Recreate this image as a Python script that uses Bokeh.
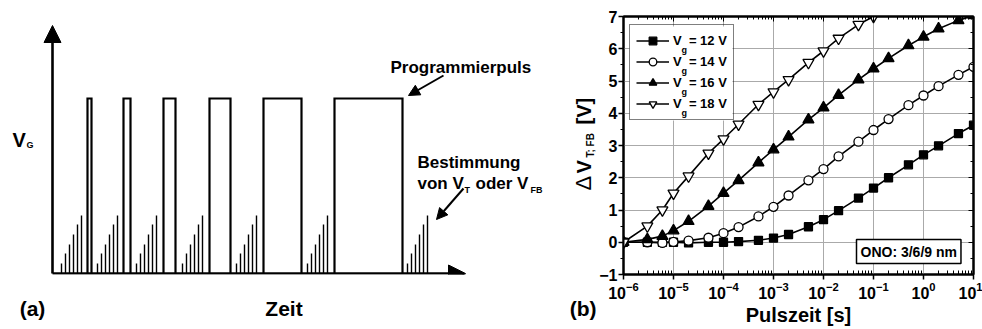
import math
from bokeh.plotting import figure
from bokeh.layouts import row
from bokeh.models import (Range1d, Label, Arrow, NormalHead, FixedTicker, LogAxis,
                          LinearAxis, Legend, LegendItem, CustomJSTickFormatter,
                          BoxAnnotation)
from bokeh.embed import file_html
from bokeh.resources import INLINE

# ---------------- panel (a): schematic pulse sequence (arbitrary units) -------------
pulse_start = [35, 71, 111, 157, 211, 282]
pulse_end = [39, 78, 123, 178, 249, 350]
pulse_level = 175
meas_start = [9, 45, 84, 130, 184, 255, 355]
meas_levels = [10, 20, 29, 39, 49, 58]
meas_step = 4
time_axis_end = 413
volt_axis_end = 248
panel_tags = ["(a)", "Zeit", "(b)"]

# ---------------- panel (b): threshold shift vs. pulse time ---------------------------
pulse_time = [1e-6, 3e-6, 6e-6, 1e-5, 2e-5, 5e-5, 1e-4, 2e-4, 5e-4, 1e-3, 2e-3, 5e-3,
              1e-2, 2e-2, 5e-2, 1e-1, 2e-1, 5e-1, 1, 2, 5, 10]
dv_12 = [0, 0, 0, 0, -0.02, 0, 0, 0.02, 0.06, 0.13, 0.24, 0.48, 0.70, 0.98, 1.37, 1.68,
         2.00, 2.40, 2.71, 2.99, 3.37, 3.63]
dv_14 = [0, 0, -0.02, 0.01, 0.05, 0.14, 0.28, 0.47, 0.80, 1.10, 1.45, 1.92, 2.27, 2.66,
         3.12, 3.48, 3.82, 4.25, 4.55, 4.84, 5.19, 5.44]
dv_16 = [0, 0.09, 0.19, 0.36, 0.65, 1.12, 1.52, 1.92, 2.47, 2.87, 3.27, 3.80, 4.17, 4.56,
         5.04, 5.38, 5.70, 6.10, 6.37, 6.62, 6.88, 7.03]
dv_18 = [0, 0.50, 1.00, 1.52, 2.05, 2.76, 3.20, 3.66, 4.27, 4.66, 5.04, 5.57, 5.93, 6.32,
         6.75, 7.00]
series_values = [dv_12, dv_14, dv_16, dv_18]
series_labels = ["V  = 12 V", "V  = 14 V", "V  = 16 V", "V  = 18 V"]
series_markers = ["square", "circle", "triangle", "inverted_triangle"]
series_fill = ["black", "white", "black", "white"]
series_size = [8, 9, 11, 11]
x_ticks = [1e-6, 1e-5, 1e-4, 1e-3, 1e-2, 1e-1, 1e0, 1e1]
y_ticks = [-1, 0, 1, 2, 3, 4, 5, 6, 7]

FONT = "Liberation Sans"
LEFT_W = 596

# =============================== panel (a) ===========================================
# frames of both panels are aligned by the row layout (top 16 px, bottom 55 px)
pa = figure(width=LEFT_W, height=329, x_range=Range1d(-52, LEFT_W - 52),
            y_range=Range1d(-1, 257), x_axis_location=None, y_axis_location=None,
            output_backend="svg", toolbar_location=None, min_border_left=0,
            min_border_right=0, min_border_top=16, min_border_bottom=55,
            outline_line_color=None)
pa.grid.visible = False

xs = [[s, s, e, e] for s, e in zip(pulse_start, pulse_end)]
ys = [[0, pulse_level, pulse_level, 0] for _ in pulse_start]
pa.multi_line(xs, ys, line_color="black", line_width=2.2, line_join="miter")

sx = [s + i * meas_step for s in meas_start for i in range(len(meas_levels))]
sy = [lv for s in meas_start for lv in meas_levels]
pa.segment(x0=sx, y0=[0] * len(sx), x1=sx, y1=sy, line_color="black", line_width=1.4)

pa.add_layout(Arrow(end=NormalHead(size=17, fill_color="black", line_color="black", line_width=1),
                    x_start=0, y_start=0, x_end=time_axis_end, y_end=0,
                    line_width=2.6, line_color="black"))
pa.add_layout(Arrow(end=NormalHead(size=17, fill_color="black", line_color="black", line_width=1),
                    x_start=0, y_start=0, x_end=0, y_end=volt_axis_end,
                    line_width=2.6, line_color="black"))
# annotation arrows
pa.add_layout(Arrow(end=NormalHead(size=11, fill_color="black", line_color="black", line_width=1),
                    x_start=391, y_start=198, x_end=356, y_end=178,
                    line_width=2, line_color="black"))
pa.add_layout(Arrow(end=NormalHead(size=11, fill_color="black", line_color="black", line_width=1),
                    x_start=411, y_start=85, x_end=384, y_end=54,
                    line_width=2, line_color="black"))


def lab(p, x, y, text, size, **kw):
    p.add_layout(Label(x=x, y=y, text=text, text_font=FONT,
                       text_font_style=kw.pop("style", "bold"),
                       text_font_size=f"{size}px", text_color="black",
                       text_baseline=kw.pop("baseline", "alphabetic"), **kw))


lab(pa, -40, 134, "V", 20)
lab(pa, -26, 129, "G", 9)
lab(pa, 338, 206, "Programmierpuls", 17)
lab(pa, 365, 111, "Bestimmung", 17)
lab(pa, 365, 90, "von V", 17)
lab(pa, 412, 84, "T", 9)
lab(pa, 423, 90, "oder V", 17)
lab(pa, 478, 84, "FB", 9)

# rotated y-axis title of panel (b), drawn in the gutter left of its axis
rot = math.pi / 2
lab(pa, 531, 83, "\u0394", 22, angle=rot, baseline="middle", style="normal")
lab(pa, 531, 100, "V", 20, angle=rot, baseline="middle")
lab(pa, 538, 116, "T; FB", 10, angle=rot, baseline="middle")
lab(pa, 531, 149, "[V]", 20, angle=rot, baseline="middle")

# panel tags and the time-axis caption as tick labels of a bare axis below panel (a)
tag_pos = [-20, 231.5, 531]
tag_axis = LinearAxis(ticker=FixedTicker(ticks=tag_pos, minor_ticks=[]),
                      major_label_overrides={p: t for p, t in zip(tag_pos, panel_tags)},
                      axis_line_color=None, major_tick_line_color=None,
                      minor_tick_line_color=None, major_tick_out=0, major_tick_in=0,
                      major_label_standoff=22, major_label_text_font=FONT,
                      major_label_text_font_style="bold", major_label_text_font_size="21px",
                      major_label_text_color="black")
pa.add_layout(tag_axis, "below")

# =============================== panel (b) ===========================================
pb = figure(width=982 - LEFT_W, height=329, x_axis_type="log", x_range=Range1d(1e-6, 1e1),
            y_range=Range1d(-1, 7), output_backend="svg", toolbar_location=None,
            min_border_left=623 - LEFT_W, min_border_right=9, min_border_top=16,
            min_border_bottom=55, outline_line_color="black", outline_line_width=2)

xt = FixedTicker(ticks=x_ticks,
                 minor_ticks=[k * d for d in x_ticks[:-1] for k in range(2, 10)])
yt = FixedTicker(ticks=y_ticks, minor_ticks=[v + 0.5 for v in y_ticks[:-1]])

xa = pb.xaxis[0]
xa.ticker = xt
xa.axis_label = "Pulszeit [s]"
ya = pb.yaxis[0]
ya.ticker = yt

for ax in (xa, ya):
    ax.axis_line_width = 2
    ax.major_tick_line_width = 1.5
    ax.minor_tick_line_width = 1
    ax.major_label_text_font = FONT
    ax.major_label_text_font_style = "bold"
    ax.major_label_text_font_size = "16px"
    ax.major_label_text_color = "black"
    ax.major_label_standoff = 2
    ax.major_tick_out = 5
    ax.major_tick_in = 0
ya.major_label_standoff = 1
xa.minor_tick_in = 4
xa.minor_tick_out = 0
ya.minor_tick_in = 0
ya.minor_tick_out = 3
xa.axis_label_text_font = FONT
xa.axis_label_text_font_style = "bold"
xa.axis_label_text_font_size = "20px"
xa.axis_label_text_color = "black"
xa.axis_label_standoff = 2

blank = CustomJSTickFormatter(code="return ''")
top_ax = LogAxis(ticker=xt, formatter=blank, major_tick_in=5, major_tick_out=0,
                 minor_tick_in=3, minor_tick_out=0, axis_line_width=2, major_label_standoff=0,
                 major_label_text_font_size="8px")
right_ax = LinearAxis(ticker=yt, formatter=blank, major_tick_in=5, major_tick_out=0,
                      minor_tick_in=3, minor_tick_out=0, axis_line_width=2,
                      major_label_standoff=0, major_label_text_font_size="8px")
pb.add_layout(top_ax, "above")
pb.add_layout(right_ax, "right")

pb.grid.grid_line_color = "#aaaaaa"
pb.grid.grid_line_width = 1

items = []
for vals, lbl, mk, fc, sz in zip(series_values, series_labels, series_markers,
                                 series_fill, series_size):
    t = pulse_time[:len(vals)]
    rl = pb.line(t, vals, line_color="black", line_width=1.6)
    rs = pb.scatter(t, vals, marker=mk, size=sz, fill_color=fc, line_color="black",
                    line_width=1.3)
    items.append(LegendItem(label=lbl, renderers=[rl, rs]))

# white backing of the legend (the legend itself is transparent so that the
# subscripts drawn afterwards stay visible)
pb.add_layout(BoxAnnotation(left=6, right=109, bottom=154, top=248, left_units="screen",
                            right_units="screen", bottom_units="screen", top_units="screen",
                            fill_color="white", fill_alpha=1, line_color=None,
                            level="annotation"))
legend = Legend(items=items, location=(6, 154), padding=6, spacing=2, glyph_width=33,
                glyph_height=19, label_height=19, label_standoff=4, margin=0,
                border_line_color="black", border_line_width=1.5,
                background_fill_alpha=0,
                label_text_font=FONT, label_text_font_style="bold",
                label_text_font_size="13px", label_text_color="black")
pb.add_layout(legend)

for i in range(len(series_labels)):
    lab(pb, 58, 225 - 21 * i, "g", 9, x_units="screen", y_units="screen")

# ONO box
pb.add_layout(Label(x=233, y=11, x_units="screen", y_units="screen", text="ONO: 3/6/9 nm",
                    text_font=FONT, text_font_style="bold", text_font_size="14px",
                    text_baseline="bottom", text_align="left",
                    text_color="black", border_line_color="black", border_line_width=1.5,
                    background_fill_color="white", padding=4))

layout = row(pa, pb, spacing=0)
open("out.html", "w").write(file_html(layout, INLINE))
